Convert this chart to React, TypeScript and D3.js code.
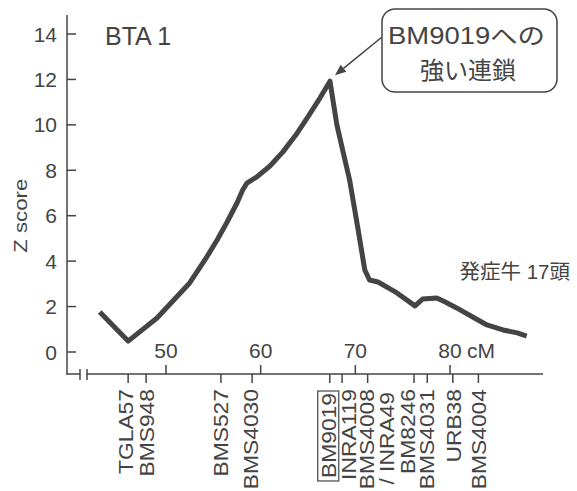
import React, { useLayoutEffect, useRef, useState } from "react";
import * as d3 from "d3";

// linkage scan on BTA 1 (cM position, Z score)
const positions = [43.0, 46.0, 49.05, 52.5, 54.3, 55.4, 56.4, 57.5, 58.1, 58.55, 59.6, 60.98, 62.35, 63.73, 64.99,
  66.26, 67.32, 68.05, 69.1, 69.4, 70.3, 71.0, 71.5, 72.4, 74.4, 76.3, 77.1, 78.6, 79.5, 80.7, 82.4, 83.9, 85.6,
  87.1, 88.1];
const zScores = [1.76, 0.48, 1.5, 3.04, 4.18, 4.93, 5.68, 6.56, 7.13, 7.44, 7.71, 8.19, 8.81, 9.56, 10.35,
  11.18, 11.92, 10.0, 8.1, 7.57, 5.37, 3.61, 3.17, 3.08, 2.6, 2.03, 2.33, 2.38, 2.2, 1.94, 1.54, 1.19, 0.97,
  0.84, 0.7];

const markerNames = [["TGLA57"], ["BMS948"], ["BMS527"], ["BMS4030"], ["BM9019"], ["INRA119"],
  ["BMS4008", "/ INRA49"], ["BM8246"], ["BMS4031"], ["URB38"], ["BMS4004"]];
const markerCM = [46.0, 47.9, 55.8, 59.1, 67.3, 68.6, 71.3, 76.2, 77.6, 80.3, 83.0];
const labelShift = [-2, 1, 0, -1, -1, 7, -1, -6, 0, 1, 1];

const yTicks = [0, 2, 4, 6, 8, 10, 12, 14];
const xTicks = [50, 60, 70, 80];

const FONT = "'Liberation Sans', Arial, 'Noto Sans CJK JP', sans-serif";
const INK = "#444";
const STRETCH = 1.17;

export default function App() {
  const x = d3.scaleLinear().domain([50, 80]).range([166, 450]);
  const y = d3.scaleLinear().domain([0, 14]).range([352, 34]);
  const axisX = 67;
  const axisY = 374;
  const labelTop = 389;
  const markerFont = 19.5;

  const line = d3
    .line<number>()
    .x((d, i) => x(positions[i]))
    .y((d) => y(d))
    .curve(d3.curveLinear);

  const boxRef = useRef<SVGTextElement>(null);
  const [boxLen, setBoxLen] = useState<number | null>(null);
  useLayoutEffect(() => {
    if (boxRef.current) setBoxLen(boxRef.current.getBBox().width * STRETCH);
  }, []);

  const peakIdx = d3.maxIndex(zScores);
  const tipX = x(positions[peakIdx]) + 5;
  const tipY = y(zScores[peakIdx]) - 6;
  const startX = 382;
  const startY = 37;
  const ang = Math.atan2(tipY - startY, tipX - startX);
  const hl = 11;
  const hw = 4.5;
  const bx = tipX - hl * Math.cos(ang);
  const by = tipY - hl * Math.sin(ang);
  const head = [
    [tipX, tipY],
    [bx + hw * Math.sin(ang), by - hw * Math.cos(ang)],
    [bx - hw * Math.sin(ang), by + hw * Math.cos(ang)],
  ];
  const bmX = x(markerCM[4]) + labelShift[4];

  return (
    <div style={{ position: "absolute", left: 0, top: 0 }}>
      <svg width={577} height={491} style={{ display: "block", background: "#fff" }} fontFamily={FONT}>
        {/* y axis */}
        <line x1={axisX} x2={axisX} y1={15} y2={axisY + 1} stroke={INK} strokeWidth={1.5} />
        {yTicks.map((t) => (
          <g key={t}>
            <line x1={axisX} x2={axisX + 9} y1={y(t)} y2={y(t)} stroke={INK} strokeWidth={1.5} />
            <text x={57} y={y(t)} dy="0.36em" textAnchor="end" fontSize={21} fill={INK}>
              {t}
            </text>
          </g>
        ))}
        <text
          transform={`translate(20,${y(6.0)}) rotate(-90) scale(${STRETCH},1)`}
          dy="0.36em"
          textAnchor="middle"
          fontSize={19}
          fill={INK}
        >
          Z score
        </text>

        {/* x axis with break */}
        <line x1={axisX} x2={80} y1={axisY} y2={axisY} stroke={INK} strokeWidth={1.5} />
        <line x1={80} x2={80} y1={axisY - 5} y2={axisY + 6} stroke={INK} strokeWidth={1.5} />
        <line x1={87} x2={87} y1={axisY - 5} y2={axisY + 6} stroke={INK} strokeWidth={1.5} />
        <line x1={87} x2={543} y1={axisY} y2={axisY} stroke={INK} strokeWidth={1.5} />
        {xTicks.map((t) => (
          <g key={t}>
            <line x1={x(t)} x2={x(t)} y1={axisY} y2={axisY - 9} stroke={INK} strokeWidth={1.5} />
            <text x={x(t)} y={358} textAnchor="middle" fontSize={21} fill={INK}>
              {t}
            </text>
          </g>
        ))}
        <text x={x(80) + 17} y={358} fontSize={21} fill={INK}>
          cM
        </text>

        {/* markers */}
        {markerNames.map((lines, i) => {
          const mx = x(markerCM[i]);
          return (
            <g key={lines[0]}>
              <line x1={mx} x2={mx} y1={axisY} y2={axisY + 9} stroke={INK} strokeWidth={1.5} />
              {lines.map((s, j) => (
                <text
                  key={s}
                  ref={s === "BM9019" ? boxRef : undefined}
                  transform={`translate(${mx + labelShift[i] + j * 20},${labelTop + (j ? 3 : i === 4 ? 4 : 0)}) rotate(-90) scale(${STRETCH},1)`}
                  dy="0.36em"
                  textAnchor="end"
                  fontSize={markerFont}
                  fill={INK}
                >
                  {s}
                </text>
              ))}
            </g>
          );
        })}
        {boxLen !== null && (
          <rect x={bmX - 11} y={labelTop + 2} width={21} height={boxLen + 5} fill="none" stroke={INK} strokeWidth={1.2} />
        )}

        {/* curve */}
        <path d={line(zScores) || ""} fill="none" stroke={INK} strokeWidth={5} strokeLinejoin="round" strokeLinecap="butt" />

        {/* texts */}
        <text x={105} y={45} fontSize={25} fill={INK}>
          BTA 1
        </text>
        <text x={570} y={279} textAnchor="end" fontSize={20.5} fill={INK}>
          発症牛 17頭
        </text>

        {/* callout */}
        <line x1={startX} y1={startY} x2={bx} y2={by} stroke={INK} strokeWidth={1.5} />
        <polygon points={head.map((p) => p.join(",")).join(" ")} fill={INK} />
        <rect x={382} y={9} width={175} height={83} rx={13} fill="#fff" stroke={INK} strokeWidth={1.5} />
        <text x={388} y={44} fontSize={23} fill={INK} textLength={157} lengthAdjust="spacingAndGlyphs">
          BM9019への
        </text>
        <text x={468} y={79} textAnchor="middle" fontSize={24} fill={INK}>
          強い連鎖
        </text>
      </svg>
    </div>
  );
}
